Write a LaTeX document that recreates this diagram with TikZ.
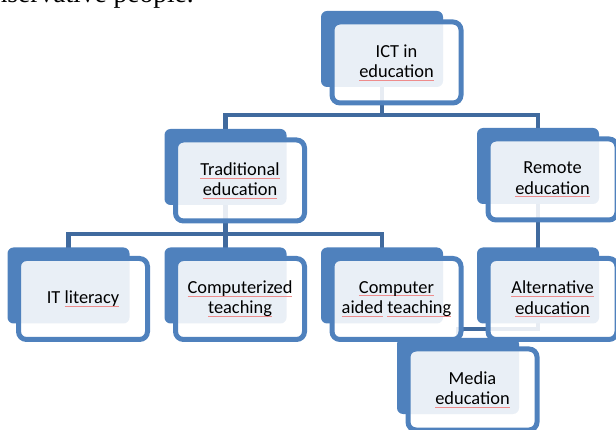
\documentclass[tikz,border=0pt]{standalone}
\usepackage{fontspec}
\setmainfont{Carlito}
\newfontfamily\docserif{Liberation Serif}
\usetikzlibrary{calc}
\definecolor{accent}{RGB}{79,129,189}
\definecolor{connc}{RGB}{64,106,158}
\definecolor{spell}{RGB}{238,140,140}
\newcommand\spellw[1]{\setbox0\hbox{#1}\rlap{\textcolor{spell}{\rule[-2.8pt]{\wd0}{0.6pt}}}\box0\relax}
\pgfdeclarelayer{bg}\pgfsetlayers{bg,main}
\tikzset{
  darkbox/.style={fill=accent, rounded corners=6pt, minimum width=122pt, minimum height=76pt, inner sep=0pt, outer sep=0pt},
  frontbox/.style={draw=accent, line width=5pt, fill=white, fill opacity=0.88, text opacity=1, draw opacity=1,
    rounded corners=8pt, minimum width=129pt, minimum height=81pt, inner sep=0pt, align=center,
    font=\fontsize{18.4}{20.2}\selectfont},
  conn/.style={draw=connc, line width=4.6pt, line join=miter},
}
\begin{document}
\begin{tikzpicture}[x=1pt,y=-1pt]
\useasboundingbox (0,0) rectangle (616,430);
\node[anchor=base east, inner sep=0pt, font=\docserif\fontsize{27.5}{30}\selectfont] (toptext) at (194,3) {conservative people.};
% level 0
\node[darkbox] (ict) at (382,49) {};
\node[frontbox] (ictf) at ($(ict)+(14.5,13.5)$) {ICT in\\\spellw{education}};
% level 1
\node[darkbox] (trad) at (225.5,167) {};
\node[frontbox] (tradf) at ($(trad)+(14.5,13.5)$) {\spellw{Traditional}\\\spellw{education}};
\node[darkbox] (remote) at (538,166) {};
\node[frontbox] (remotef) at ($(remote)+(14.5,13.5)$) {Remote\\\spellw{education}};
% level 2
\node[darkbox] (itl) at (68.5,285.5) {};
\node[frontbox] (itlf) at ($(itl)+(14.5,13.5)$) {IT \spellw{literacy}};
\node[darkbox] (comp) at (225.5,285.5) {};
\node[frontbox] (compf) at ($(comp)+(14.5,13.5)$) {\spellw{Computerized}\\\spellw{teaching}};
\node[darkbox] (cat) at (382,285.5) {};
\node[frontbox] (catf) at ($(cat)+(14.5,13.5)$) {\spellw{Computer}\\\spellw{aided} \spellw{teaching}};
\node[darkbox] (alt) at (538,285.5) {};
\node[frontbox] (altf) at ($(alt)+(14.5,13.5)$) {\spellw{Alternative}\\\spellw{education}};
% level 3
\node[darkbox] (media) at (458,376) {};
\node[frontbox] (mediaf) at ($(media)+(14.5,13.5)$) {Media\\\spellw{education}};
% connectors
\coordinate (j1) at (382,115);
\coordinate (j2) at (225.5,234);
\coordinate (j3) at (458,329);
\begin{pgfonlayer}{bg}
\draw[conn] (ict.center) -- (j1);
\draw[conn] (trad.center) |- (j1) -| (remote.center);
\draw[conn] (trad.center) -- (j2);
\draw[conn] (itl.center) |- (j2) -| (cat.center);
\draw[conn] (j2) -- (comp.center);
\draw[conn] (remote.center) -- (alt.center);
\draw[conn] (alt.center) |- (j3) -- (media.center);
\end{pgfonlayer}
\end{tikzpicture}
\end{document}
